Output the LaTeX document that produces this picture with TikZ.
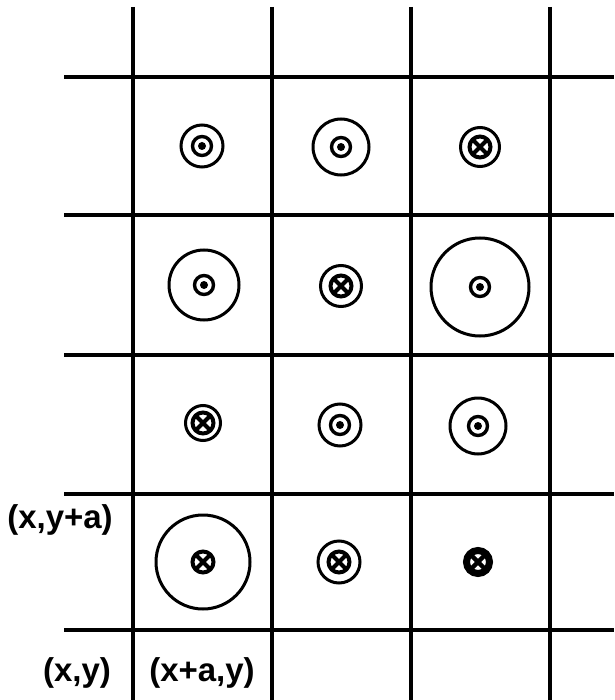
\documentclass[tikz,border=0pt]{standalone}
\usepackage{fontspec}
\setmainfont{Liberation Sans}

\begin{document}
\begin{tikzpicture}[
	x=1pt, y=-1pt,
	font=\fontsize{33}{38}\selectfont\bfseries,
	gridline/.style={line width=4pt},
	ring/.style={line width=3pt},
	label/.style={inner sep=0pt, anchor=center},
	outof/.pic={
		\draw[line width=3.4pt] (0,0) circle (9.5pt);
		\fill (0,0) circle (4pt);
	},
	into/.pic={
		\draw[line width=4pt] (0,0) circle (10.5pt);
		\draw[line width=4pt] (-7,-7) -- (7,7) (-7,7) -- (7,-7);
	},
	intobold/.pic={
		\draw[line width=7pt] (0,0) circle (11.5pt);
		\draw[line width=4.5pt] (-8,-8) -- (8,8) (-8,8) -- (8,-8);
	},
]

\useasboundingbox (0,0) rectangle (614,700);

% Mřížka
\foreach \gx in {133,272,411,550}
	\draw[gridline] (\gx,7) -- (\gx,700);
\foreach \gy in {77,215,355,494,630}
	\draw[gridline] (64,\gy) -- (614,\gy);

% Řada 1
\pic at (202,146) {outof};
\draw[ring] (202,146) circle (21pt);
\pic at (341,147) {outof};
\draw[ring] (341,147) circle (28pt);
\pic at (480,147) {into};
\draw[ring] (480,147) circle (19.5pt);

% Řada 2
\pic at (204,285) {outof};
\draw[ring] (204,285) circle (35pt);
\pic at (341,286) {into};
\draw[ring] (341,286) circle (20.5pt);
\pic at (480,287) {outof};
\draw[ring] (480,287) circle (49pt);

% Řada 3
\pic at (203,423) {into};
\draw[ring] (203,423) circle (17.5pt);
\pic at (340,425) {outof};
\draw[ring] (340,425) circle (21pt);
\pic at (478,426) {outof};
\draw[ring] (478,426) circle (28pt);

% Řada 4
\pic at (203,562) {into};
\draw[ring] (203,562) circle (47pt);
\pic at (339,562) {into};
\draw[ring] (339,562) circle (21pt);
\pic at (478,562) {intobold};

% Popisky bodů
\node[label] (pxya) at (60,520) {(x,y+a)};
\node[label] (pxy) at (77,673) {(x,y)};
\node[label] (pxay) at (202,673) {(x+a,y)};

\end{tikzpicture}
\end{document}
